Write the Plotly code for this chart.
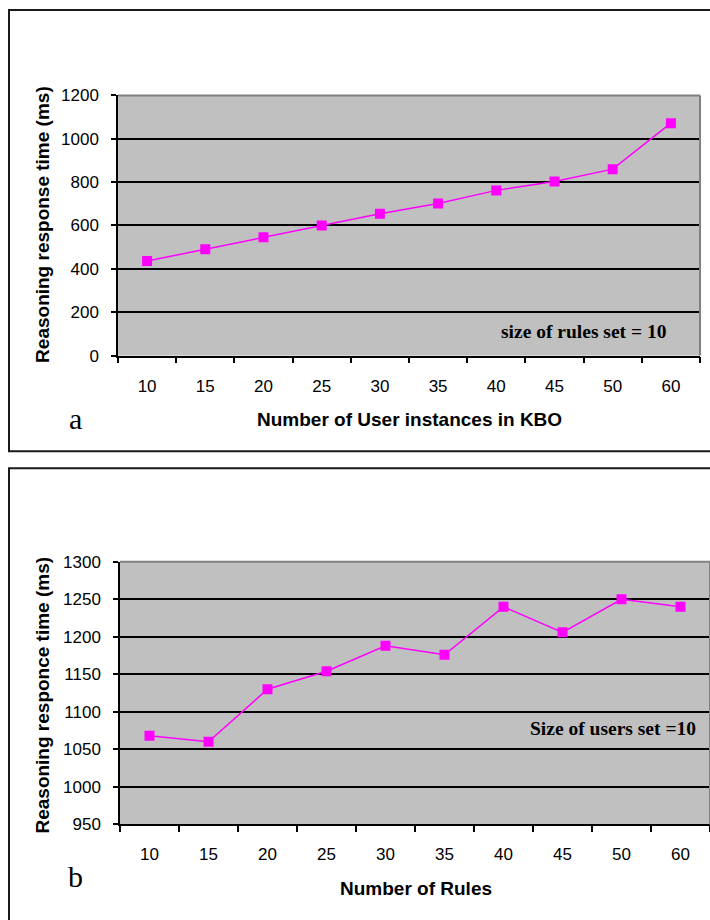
import plotly.graph_objects as go

# ---- data ----
users_categories = ["10", "15", "20", "25", "30", "35", "40", "45", "50", "60"]
users_response_ms = [436, 490, 546, 600, 654, 701, 762, 803, 860, 1072]

rules_categories = ["10", "15", "20", "25", "30", "35", "40", "45", "50", "60"]
rules_response_ms = [1068, 1060, 1130, 1154, 1188, 1176, 1240, 1206, 1250, 1240]

W, H = 710, 920
# the photographed page maps figure y -> SY*y + OY; compensate so the picture matches
SY, OY = 0.978, 9.4

def px_x(x):
    return x / W

def px_y(y):
    fy = (y - OY) / SY
    return min(1.0, max(0.0, (H - fy) / H))

fig = go.Figure()

line_style = dict(color="#FF00FF", width=1.5)
marker_style = dict(symbol="square", size=10, color="#FF00FF")

fig.add_trace(go.Scatter(x=users_categories, y=users_response_ms, mode="lines+markers",
                         line=line_style, marker=marker_style, xaxis="x", yaxis="y",
                         hoverinfo="x+y"))
fig.add_trace(go.Scatter(x=rules_categories, y=rules_response_ms, mode="lines+markers",
                         line=line_style, marker=marker_style, xaxis="x2", yaxis="y2",
                         hoverinfo="x+y"))

tick_font = dict(family="Liberation Sans, Arial, sans-serif", size=17, color="black")

xcommon = dict(type="category", tickson="boundaries", ticks="outside", ticklen=6,
               tickwidth=1.5, tickcolor="black", showline=True, linecolor="black",
               linewidth=1.5, showgrid=False, zeroline=False, tickfont=tick_font,
               ticklabelstandoff=14, fixedrange=True, range=[-0.5, 9.5], autorange=False)
ycommon = dict(ticks="outside", ticklen=5, tickwidth=1.5, tickcolor="black",
               showline=True, linecolor="black", linewidth=1.5, showgrid=True,
               gridcolor="black", gridwidth=1.5, zeroline=False, tickfont=tick_font,
               ticklabelstandoff=9, fixedrange=True)

fig.update_layout(
    width=W, height=H,
    margin=dict(l=0, r=0, t=0, b=0),
    paper_bgcolor="white",
    plot_bgcolor="#C0C0C0",
    showlegend=False,
    xaxis=dict(domain=[px_x(118), px_x(700)], anchor="y", **xcommon),
    yaxis=dict(domain=[px_y(355.5), px_y(95.7)], anchor="x", range=[0, 1200],
               dtick=200, **ycommon),
    xaxis2=dict(domain=[px_x(120), 1.0], anchor="y2", **xcommon),
    yaxis2=dict(domain=[px_y(823.5), px_y(561.5)], anchor="x2", range=[950, 1300],
                dtick=50, **ycommon),
)

shapes = []
# outer frames
shapes.append(dict(type="rect", xref="paper", yref="paper",
                   x0=px_x(9), x1=1.05, y0=px_y(451), y1=0.999,
                   line=dict(color="#1a1a1a", width=2), layer="above"))
shapes.append(dict(type="rect", xref="paper", yref="paper",
                   x0=px_x(9), x1=1.05, y0=-0.05, y1=px_y(468),
                   line=dict(color="#1a1a1a", width=2), layer="above"))
# gray top/right borders of the plot areas
for xa, ya in (("x", "y"), ("x2", "y2")):
    shapes.append(dict(type="line", xref=f"{xa} domain", yref=f"{ya} domain",
                       x0=0, x1=1, y0=1, y1=1,
                       line=dict(color="#808080", width=2), layer="above"))
    shapes.append(dict(type="line", xref=f"{xa} domain", yref=f"{ya} domain",
                       x0=1, x1=1, y0=0, y1=1,
                       line=dict(color="#808080", width=2), layer="above"))
fig.update_layout(shapes=shapes)

title_font = dict(family="Liberation Sans, Arial, sans-serif", size=19, color="black")
serif_bold = dict(family="Liberation Serif, Times New Roman, serif", size=19.5, color="black")
serif_big = dict(family="Liberation Serif, Times New Roman, serif", size=30, color="black")

annotations = [
    dict(text="<b>Reasoning response time (ms)</b>", x=px_x(43), y=px_y(225),
         textangle=-90, font=title_font),
    dict(text="<b>Number of User instances in KBO</b>", x=px_x(409), y=px_y(419),
         font=title_font),
    dict(text="a", x=px_x(75), y=px_y(418), font=serif_big),
    dict(text="<b>size of rules set = 10</b>", x=px_x(583), y=px_y(331), font=serif_bold),
    dict(text="<b>Reasoning responce time (ms)</b>", x=px_x(43), y=px_y(695),
         textangle=-90, font=title_font),
    dict(text="<b>Number of Rules</b>", x=px_x(416), y=px_y(888), font=title_font),
    dict(text="b", x=px_x(75), y=px_y(876), font=serif_big),
    dict(text="<b>Size of users set =10</b>", x=px_x(613), y=px_y(728), font=serif_bold),
]
for a in annotations:
    a.update(xref="paper", yref="paper", showarrow=False, xanchor="center", yanchor="middle")
fig.update_layout(annotations=annotations)

fig.write_html(
    "out.html",
    config={"displayModeBar": False},
    post_script=(
        "document.documentElement.style.overflow='hidden';"
        "document.body.style.margin='0';document.body.style.padding='0';"
        "var d=document.getElementById('{plot_id}');"
        "d.style.position='fixed';d.style.left='0px';d.style.top='0px';"
    ),
)
